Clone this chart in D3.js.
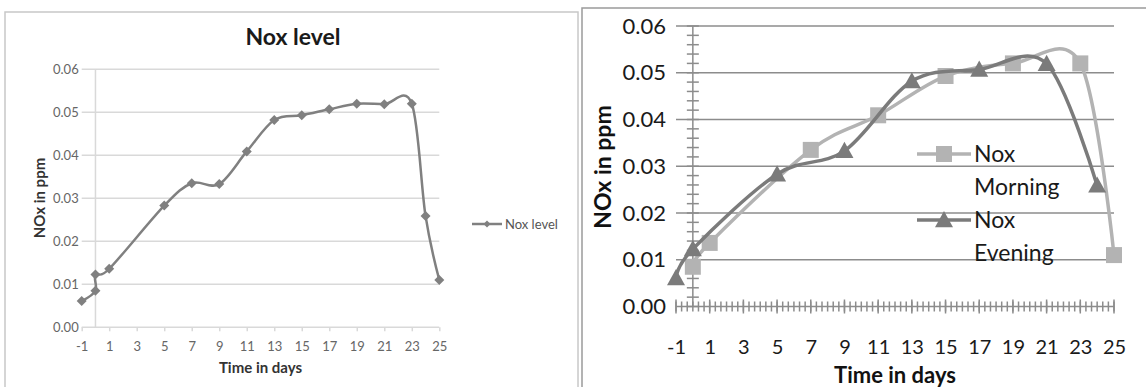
<!DOCTYPE html>
<html>
<head>
<meta charset="utf-8">
<script src="https://cdn.jsdelivr.net/npm/d3@7"></script>
<style>
  body { margin: 0; background: #fff; }
  svg { display: block; font-family: Lato, "Open Sans", sans-serif; }
</style>
</head>
<body>
<div id="chart-area"></div>
<script>
// values
const morningDays = [0, 1, 7, 11, 15, 19, 23, 25];
const noxMorning = [0.0085, 0.0136, 0.0335, 0.0409, 0.0493, 0.0520, 0.0520, 0.0110];
const eveningDays = [-1, 0, 5, 9, 13, 17, 21, 24];
const noxEvening = [0.0061, 0.0123, 0.0283, 0.0333, 0.0482, 0.0507, 0.0519, 0.0259];
const xTicks = [-1, 1, 3, 5, 7, 9, 11, 13, 15, 17, 19, 21, 23, 25];
const yTicks = [0, 0.01, 0.02, 0.03, 0.04, 0.05, 0.06];

const morning = morningDays.map((d, i) => ({ day: d, v: noxMorning[i] }));
const evening = eveningDays.map((d, i) => ({ day: d, v: noxEvening[i] }));
// left chart = both sets on one line
const level = morning.concat(evening).sort((a, b) => a.day - b.day || a.v - b.v);

const svg = d3.select("#chart-area")
    .append("svg")
    .attr("width", 1146)
    .attr("height", 387);

const fmt = d3.format(".2f");
const dayFmt = d => String(d);   // plain hyphen for -1
const diamond = r => `M0,${-r}L${r},0L0,${r}L${-r},0Z`;
const square = r => `M${-r},${-r}H${r}V${r}H${-r}Z`;
const triangle = r => `M0,${-r}L${r},${r * 0.8}L${-r},${r * 0.8}Z`;

// ---------------- LEFT CHART ----------------
const L = svg.append("g");

L.append("rect")
    .attr("x", 5).attr("y", 12)
    .attr("width", 573).attr("height", 400)
    .attr("fill", "none")
    .attr("stroke", "#c8c8c8")
    .attr("stroke-width", 1.5);

const xL = d3.scaleLinear().domain([-1, 25]).range([81.7, 439.3]);
const yL = d3.scaleLinear().domain([0, 0.06]).range([327.3, 69.3]);

// gridlines
L.append("g").selectAll("line")
    .data(yTicks)
    .enter().append("line")
    .attr("x1", xL(-1)).attr("x2", xL(25))
    .attr("y1", d => yL(d)).attr("y2", d => yL(d))
    .attr("stroke", "#d9d9d9")
    .attr("stroke-width", 1.5);

// vertical axis at day 0
L.append("line")
    .attr("x1", xL(0)).attr("x2", xL(0))
    .attr("y1", yL(0)).attr("y2", yL(0.06))
    .attr("stroke", "#d9d9d9")
    .attr("stroke-width", 1.5);

const yAxisL = L.append("g")
    .attr("transform", "translate(" + xL(-1) + ",0)")
    .call(d3.axisLeft(yL).tickValues(yTicks).tickFormat(fmt).tickSize(0).tickPadding(3));
yAxisL.select(".domain").remove();
yAxisL.selectAll("text")
    .attr("font-family", "Lato, sans-serif")
    .attr("font-size", "13px")
    .attr("fill", "#666");

const xAxisL = L.append("g")
    .attr("transform", "translate(0," + yL(0) + ")")
    .call(d3.axisBottom(xL).tickValues(xTicks).tickFormat(dayFmt).tickSize(4).tickPadding(10));
xAxisL.select(".domain").remove();
xAxisL.selectAll("line").attr("stroke", "#d9d9d9").attr("stroke-width", 1.5);
xAxisL.selectAll("text")
    .attr("font-family", "Lato, sans-serif")
    .attr("font-size", "13px")
    .attr("fill", "#666");

// titles
L.append("text")
    .attr("x", 293).attr("y", 45)
    .attr("text-anchor", "middle")
    .attr("font-size", "23px")
    .attr("font-weight", "bold")
    .attr("fill", "#1a1a1a")
    .text("Nox level");

L.append("text")
    .attr("x", (xL(-1) + xL(25)) / 2).attr("y", 373)
    .attr("text-anchor", "middle")
    .attr("font-size", "15px")
    .attr("font-weight", "bold")
    .attr("fill", "#333")
    .text("Time in days");

L.append("text")
    .attr("transform", "translate(45,198) rotate(-90)")
    .attr("text-anchor", "middle")
    .attr("font-size", "15px")
    .attr("font-weight", "bold")
    .attr("fill", "#333")
    .text("NOx in ppm");

// line + markers
const lineL = d3.line()
    .x(d => xL(d.day))
    .y(d => yL(d.v))
    .curve(d3.curveCardinal.tension(0));

L.append("path")
    .datum(level)
    .attr("d", lineL)
    .attr("fill", "none")
    .attr("stroke", "#808080")
    .attr("stroke-width", 2.5);

L.append("g").selectAll("path")
    .data(level)
    .enter().append("path")
    .attr("transform", d => "translate(" + xL(d.day) + "," + yL(d.v) + ")")
    .attr("d", diamond(5))
    .attr("fill", "#808080");

// legend
const legL = L.append("g").attr("transform", "translate(472,224)");
legL.append("line").attr("x1", 0).attr("x2", 30)
    .attr("stroke", "#808080").attr("stroke-width", 2.5);
legL.append("path").attr("transform", "translate(15,0)").attr("d", diamond(3.5)).attr("fill", "#808080");
legL.append("text").attr("x", 33).attr("y", 0).attr("dy", "0.35em")
    .attr("font-size", "13px").attr("fill", "#555")
    .text("Nox level");

// ---------------- RIGHT CHART ----------------
const R = svg.append("g");

R.append("rect")
    .attr("x", 582).attr("y", 8)
    .attr("width", 600).attr("height", 400)
    .attr("fill", "none")
    .attr("stroke", "#9a9a9a")
    .attr("stroke-width", 1.5);

const xR = d3.scaleLinear().domain([-1, 25]).range([676, 1114]);
const yR = d3.scaleLinear().domain([0, 0.06]).range([306.5, 26]);

R.append("g").selectAll("line")
    .data(yTicks)
    .enter().append("line")
    .attr("x1", xR(-1)).attr("x2", xR(25))
    .attr("y1", d => yR(d)).attr("y2", d => yR(d))
    .attr("stroke", "#8c8c8c")
    .attr("stroke-width", 1.5);

// axis at day 0 with minor ticks
R.append("line")
    .attr("x1", xR(0)).attr("x2", xR(0))
    .attr("y1", yR(0)).attr("y2", yR(0.06))
    .attr("stroke", "#8c8c8c")
    .attr("stroke-width", 1.5);

R.append("g").selectAll("line")
    .data(d3.range(0, 0.0601, 0.002))
    .enter().append("line")
    .attr("x1", xR(0) - 6).attr("x2", xR(0) + 6)
    .attr("y1", d => yR(d)).attr("y2", d => yR(d))
    .attr("stroke", "#8c8c8c")
    .attr("stroke-width", 1.5);

R.append("g").selectAll("line")
    .data(d3.range(-1, 25.01, 1 / 3))
    .enter().append("line")
    .attr("x1", d => xR(d)).attr("x2", d => xR(d))
    .attr("y1", yR(0) - 5).attr("y2", yR(0) + 5)
    .attr("stroke", "#8c8c8c")
    .attr("stroke-width", 1.5);

R.append("g").selectAll("line")
    .data(xTicks)
    .enter().append("line")
    .attr("x1", d => xR(d)).attr("x2", d => xR(d))
    .attr("y1", yR(0) - 7).attr("y2", yR(0) + 7)
    .attr("stroke", "#8c8c8c")
    .attr("stroke-width", 1.5);

const yAxisR = R.append("g")
    .attr("transform", "translate(" + xR(-1) + ",0)")
    .call(d3.axisLeft(yR).tickValues(yTicks).tickFormat(fmt).tickSize(0).tickPadding(10));
yAxisR.select(".domain").remove();
yAxisR.selectAll("text")
    .attr("font-family", "Lato, sans-serif")
    .attr("font-size", "22px")
    .attr("fill", "#1a1a1a");

const xAxisR = R.append("g")
    .attr("transform", "translate(0," + yR(0) + ")")
    .call(d3.axisBottom(xR).tickValues(xTicks).tickFormat(dayFmt).tickSize(0).tickPadding(33));
xAxisR.select(".domain").remove();
xAxisR.selectAll("text")
    .attr("font-family", "Lato, sans-serif")
    .attr("font-size", "20px")
    .attr("fill", "#1a1a1a");

R.append("text")
    .attr("x", (xR(-1) + xR(25)) / 2).attr("y", 383)
    .attr("text-anchor", "middle")
    .attr("font-size", "22px")
    .attr("font-weight", "bold")
    .attr("fill", "#111")
    .text("Time in days");

R.append("text")
    .attr("transform", "translate(611,167) rotate(-90)")
    .attr("text-anchor", "middle")
    .attr("font-size", "23px")
    .attr("font-weight", "bold")
    .attr("fill", "#111")
    .text("NOx in ppm");

const lineR = d3.line()
    .x(d => xR(d.day))
    .y(d => yR(d.v))
    .curve(d3.curveCardinal.tension(0));

const series = [
    { name: "Morning", data: morning, color: "#b3b3b3", shape: square(8) },
    { name: "Evening", data: evening, color: "#7b7b7b", shape: triangle(9) }
];

series.forEach(function (s) {
    R.append("path")
        .datum(s.data)
        .attr("d", lineR)
        .attr("fill", "none")
        .attr("stroke", s.color)
        .attr("stroke-width", 3.5);
    R.append("g").selectAll("path")
        .data(s.data)
        .enter().append("path")
        .attr("transform", d => "translate(" + xR(d.day) + "," + yR(d.v) + ")")
        .attr("d", s.shape)
        .attr("fill", s.color);
});

// legend
series.forEach(function (s, i) {
    const g = R.append("g").attr("transform", "translate(917," + (154 + i * 66) + ")");
    g.append("line").attr("x1", 0).attr("x2", 54)
        .attr("stroke", s.color).attr("stroke-width", 3.5);
    g.append("path").attr("transform", "translate(27,0)").attr("d", s.shape).attr("fill", s.color);
    g.append("text").attr("x", 57).attr("y", 0).attr("dy", "0.35em")
        .attr("font-size", "23px").attr("fill", "#1a1a1a")
        .text("Nox");
    g.append("text").attr("x", 57).attr("y", 33).attr("dy", "0.35em")
        .attr("font-size", "23px").attr("fill", "#1a1a1a")
        .text(s.name);
});
</script>
</body>
</html>
